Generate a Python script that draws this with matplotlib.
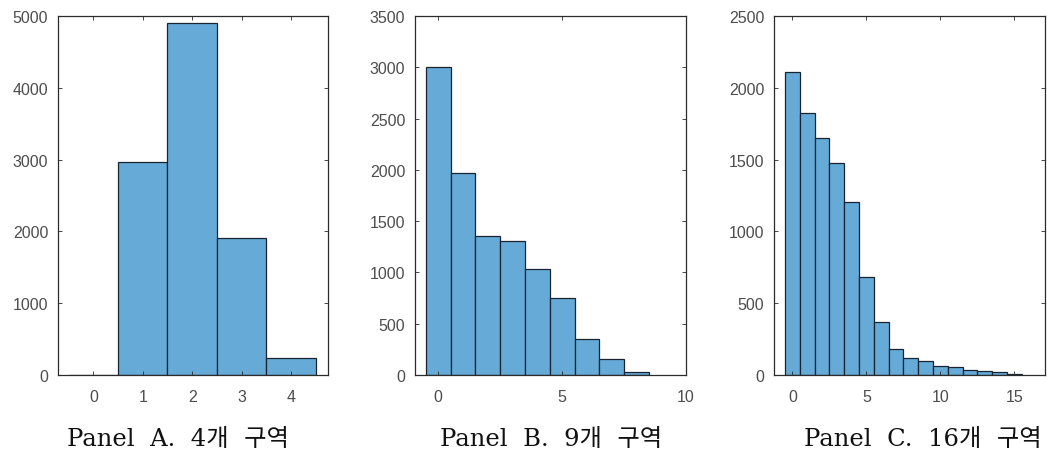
import numpy as np
import matplotlib
matplotlib.use("Agg")
import matplotlib.pyplot as plt

# bin counts (bins centred on integers)
counts_a = [0, 2960, 4900, 1905, 232]
counts_b = [3000, 1965, 1358, 1303, 1035, 751, 348, 160, 28]
counts_c = [2112, 1825, 1650, 1478, 1203, 685, 367, 183, 120, 100, 65, 56, 37, 25, 18, 9]

titles = ["Panel  A.  4개  구역", "Panel  B.  9개  구역", "Panel  C.  16개  구역"]
xlims = [(-0.715, 4.75), (-0.94, 10.0), (-1.24, 17.07)]
xticks = [[0, 1, 2, 3, 4], [0, 5, 10], [0, 5, 10, 15]]
ylims = [5000, 3500, 2500]
ysteps = [1000, 500, 500]

W, H = 1047, 460
fig = plt.figure(figsize=(W / 100, H / 100), dpi=100)

# axes boxes in pixels: left, right
boxes = [(58, 328), (415, 686), (774, 1045)]
top_px, bot_px = 17, 376
title_x = [178, 551, 923]

bar_face = "#66aad7"
bar_edge = "#1a2330"
frame = "#2b2b2b"

for i, counts in enumerate([counts_a, counts_b, counts_c]):
    l, r = boxes[i]
    ax = fig.add_axes([l / W, (H - bot_px) / H, (r - l) / W, (bot_px - top_px) / H])
    x = np.arange(len(counts))
    ax.bar(x, counts, width=1.0, color=bar_face, edgecolor=bar_edge, linewidth=0.9)
    ax.set_xlim(*xlims[i])
    ax.set_ylim(0, ylims[i])
    ax.set_xticks(xticks[i])
    ax.set_yticks(np.arange(0, ylims[i] + 1, ysteps[i]))
    ax.tick_params(direction="in", top=True, right=True, length=3, width=0.6,
                   color=frame, labelcolor="#4d4d4d", labelsize=11.5)
    ax.tick_params(axis="x", pad=10)
    ax.tick_params(axis="y", pad=7)
    for lab in ax.get_xticklabels() + ax.get_yticklabels():
        lab.set_family(["Liberation Sans", "DejaVu Sans"])
    for s in ax.spines.values():
        s.set_color(frame)
        s.set_linewidth(0.9)
    fig.text(title_x[i] / W, 20 / H, titles[i], ha="center", va="center",
             fontsize=17.5, family=["DejaVu Serif", "Noto Sans CJK KR"], color="#111111")

fig.savefig("out.png", dpi=100)
